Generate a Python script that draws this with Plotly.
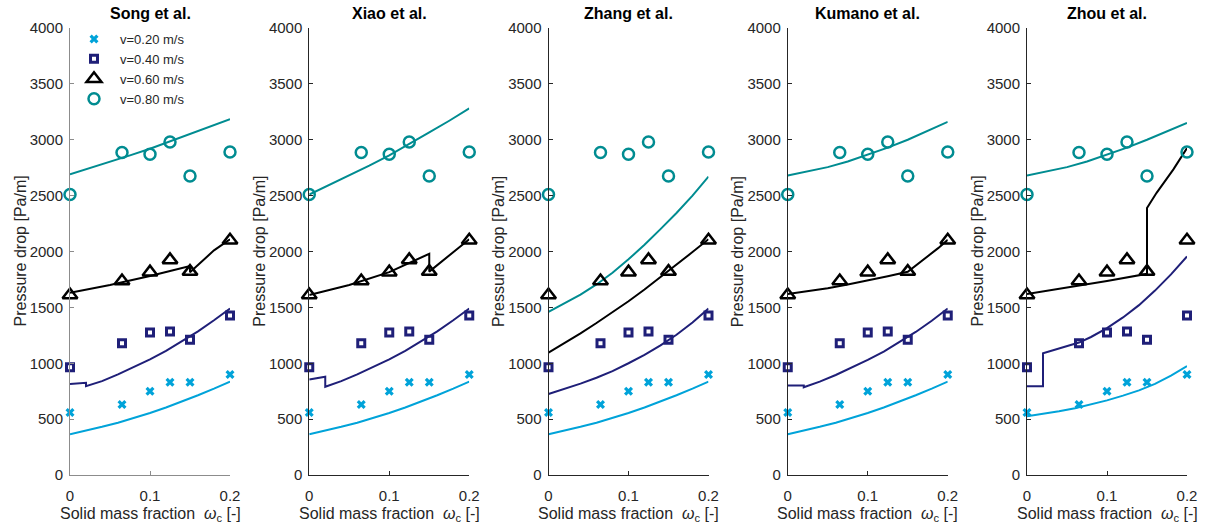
import plotly.graph_objects as go

# ---------------- data ----------------
panel_titles = ["Song et al.", "Xiao et al.", "Zhang et al.", "Kumano et al.", "Zhou et al."]
legend_names = ["v=0.20 m/s", "v=0.40 m/s", "v=0.60 m/s", "v=0.80 m/s"]

# experimental points (same in every panel)
x_exp = [0, 0.065, 0.1, 0.125, 0.15, 0.2]
exp_v020 = [560, 630, 750, 830, 830, 900]
exp_v040 = [965, 1180, 1275, 1285, 1210, 1428]
exp_v060 = [1610, 1735, 1815, 1925, 1820, 2100]
exp_v080 = [2510, 2885, 2870, 2980, 2675, 2890]

# model curves, per panel
grid11 = [0, 0.02, 0.04, 0.06, 0.08, 0.1, 0.12, 0.14, 0.16, 0.18, 0.2]
grid9 = [0, 0.025, 0.05, 0.075, 0.1, 0.125, 0.15, 0.175, 0.2]

# v = 0.20 m/s
song_v020_x = grid11
song_v020_y = [365, 397, 431, 468, 509, 555, 604, 657, 714, 773, 836]
xiao_v020_x = grid11
xiao_v020_y = [365, 397, 431, 468, 509, 555, 604, 657, 714, 773, 836]
zhang_v020_x = grid11
zhang_v020_y = [365, 397, 431, 468, 509, 555, 604, 657, 714, 773, 836]
kumano_v020_x = grid11
kumano_v020_y = [365, 397, 431, 468, 509, 555, 604, 657, 714, 773, 836]
zhou_v020_x = grid11
zhou_v020_y = [525, 547, 571, 598, 630, 668, 710, 757, 815, 890, 975]

# v = 0.40 m/s
step_x = [0, 0.02, 0.02, 0.04, 0.06, 0.08, 0.1, 0.12, 0.14, 0.16, 0.18, 0.2]
song_v040_x = step_x
song_v040_y = [815, 825, 795, 840, 900, 965, 1035, 1110, 1195, 1285, 1385, 1490]
xiao_v040_x = step_x
xiao_v040_y = [855, 880, 790, 840, 900, 965, 1035, 1110, 1195, 1285, 1385, 1490]
zhang_v040_x = grid11
zhang_v040_y = [725, 770, 818, 870, 930, 1000, 1075, 1160, 1255, 1365, 1490]
kumano_v040_x = step_x
kumano_v040_y = [800, 800, 785, 835, 895, 960, 1030, 1105, 1190, 1280, 1380, 1490]
zhou_v040_x = [0, 0.02, 0.02, 0.04, 0.065, 0.08, 0.1, 0.12, 0.14, 0.16, 0.18, 0.2]
zhou_v040_y = [795, 795, 1090, 1130, 1185, 1235, 1315, 1410, 1520, 1650, 1795, 1955]

# v = 0.60 m/s
song_v060_x = [0, 0.05, 0.1, 0.15, 0.15, 0.165, 0.18, 0.2]
song_v060_y = [1630, 1700, 1780, 1870, 1815, 1915, 2010, 2110]
xiao_v060_x = [0, 0.05, 0.1, 0.125, 0.15, 0.15, 0.17, 0.185, 0.2]
xiao_v060_y = [1610, 1700, 1815, 1900, 1980, 1820, 1935, 2025, 2110]
zhang_v060_x = grid11
zhang_v060_y = [1095, 1180, 1268, 1360, 1455, 1555, 1660, 1770, 1880, 1995, 2110]
kumano_v060_x = [0, 0.025, 0.05, 0.075, 0.1, 0.125, 0.15, 0.163, 0.176, 0.188, 0.2]
kumano_v060_y = [1620, 1645, 1672, 1705, 1740, 1778, 1818, 1890, 1960, 2030, 2105]
zhou_v060_x = [0, 0.05, 0.1, 0.15, 0.15, 0.162, 0.183, 0.2]
zhou_v060_y = [1620, 1675, 1735, 1800, 2390, 2525, 2735, 2925]

# v = 0.80 m/s
song_v080_x = grid9
song_v080_y = [2690, 2745, 2800, 2860, 2920, 2985, 3050, 3118, 3185]
xiao_v080_x = grid9
xiao_v080_y = [2510, 2595, 2680, 2768, 2860, 2960, 3065, 3170, 3280]
zhang_v080_x = grid11
zhang_v080_y = [1460, 1535, 1615, 1705, 1810, 1930, 2060, 2200, 2345, 2500, 2670]
kumano_v080_x = grid9
kumano_v080_y = [2680, 2715, 2755, 2805, 2865, 2930, 3000, 3078, 3160]
zhou_v080_x = grid9
zhou_v080_y = [2680, 2715, 2755, 2805, 2865, 2930, 3000, 3075, 3150]

curves = [
    [(song_v020_x, song_v020_y), (song_v040_x, song_v040_y), (song_v060_x, song_v060_y), (song_v080_x, song_v080_y)],
    [(xiao_v020_x, xiao_v020_y), (xiao_v040_x, xiao_v040_y), (xiao_v060_x, xiao_v060_y), (xiao_v080_x, xiao_v080_y)],
    [(zhang_v020_x, zhang_v020_y), (zhang_v040_x, zhang_v040_y), (zhang_v060_x, zhang_v060_y), (zhang_v080_x, zhang_v080_y)],
    [(kumano_v020_x, kumano_v020_y), (kumano_v040_x, kumano_v040_y), (kumano_v060_x, kumano_v060_y), (kumano_v080_x, kumano_v080_y)],
    [(zhou_v020_x, zhou_v020_y), (zhou_v040_x, zhou_v040_y), (zhou_v060_x, zhou_v060_y), (zhou_v080_x, zhou_v080_y)],
]
exp_series = [exp_v020, exp_v040, exp_v060, exp_v080]

# ---------------- styles ----------------
colors = ["#00A3D9", "#1F1F78", "#000000", "#008C91"]
markers = [
    dict(symbol="x", size=8, line=dict(width=0)),
    dict(symbol="square-open", size=7, line=dict(width=3)),
    dict(symbol="triangle-up-open", size=13, line=dict(width=2.5)),
    dict(symbol="circle-open", size=11, line=dict(width=2.5)),
]

W, H = 1206, 528
x0_px, x1_px, step_px = 70, 230, 239.25
ytop_px, ybot_px = 28, 475

fig = go.Figure()
layout = dict(
    width=W, height=H, margin=dict(l=0, r=0, t=0, b=0, autoexpand=False),
    paper_bgcolor="white", plot_bgcolor="white",
    font=dict(family="Liberation Sans, Arial, sans-serif", color="#262626"),
    showlegend=True,
    legend=dict(x=68 / W, y=(H - 24) / H, xanchor="left", yanchor="top",
                bgcolor="rgba(0,0,0,0)", font=dict(size=13, color="#262626"),
                tracegroupgap=0, itemwidth=42),
)
annotations = []

for p in range(5):
    xa = "x" if p == 0 else f"x{p+1}"
    ya = "y" if p == 0 else f"y{p+1}"
    left = x0_px + step_px * p
    right = x1_px + step_px * p
    axcol = "#8c8c8c" if p == 0 else "#262626"
    layout["xaxis" if p == 0 else f"xaxis{p+1}"] = dict(
        domain=[left / W, right / W], range=[0, 0.2], anchor=ya, automargin=False,
        tickvals=[0, 0.1, 0.2], ticktext=["0", "0.1", "0.2"],
        ticks="inside", ticklen=4, tickcolor=axcol, showline=True, linecolor=axcol,
        linewidth=1, showgrid=False, zeroline=False, tickfont=dict(size=15, color="#262626"),
        ticklabelstandoff=7,
    )
    layout["yaxis" if p == 0 else f"yaxis{p+1}"] = dict(
        domain=[(H - ybot_px) / H, (H - ytop_px) / H], range=[0, 4000], anchor=xa,
        automargin=False, tickvals=list(range(0, 4001, 500)),
        ticks="inside", ticklen=4, tickcolor=axcol, showline=True, linecolor=axcol,
        linewidth=1, showgrid=False, zeroline=False, tickfont=dict(size=15, color="#262626"),
        ticklabelstandoff=3,
    )
    # model curves
    for k in range(4):
        cx, cy = curves[p][k]
        fig.add_trace(go.Scatter(x=cx, y=cy, mode="lines", xaxis=xa, yaxis=ya,
                                 line=dict(color=colors[k], width=2), showlegend=False,
                                 hoverinfo="skip"))
    # experimental points
    for k in range(4):
        m = dict(markers[k])
        m["color"] = colors[k]
        m["line"] = dict(m["line"], color=colors[k])
        fig.add_trace(go.Scatter(x=x_exp, y=exp_series[k], mode="markers", xaxis=xa, yaxis=ya,
                                 marker=m, name=legend_names[k], showlegend=(p == 0),
                                 cliponaxis=False))
    cx_paper = ((left + right) / 2) / W
    annotations.append(dict(text="<b>" + panel_titles[p] + "</b>", x=cx_paper, y=(H - 13) / H,
                            xref="paper", yref="paper", showarrow=False,
                            font=dict(size=16, color="#000000"), xanchor="center", yanchor="middle"))
    annotations.append(dict(text="Solid mass fraction  <i>ω</i><sub>c</sub> [-]", x=cx_paper,
                            y=(H - 514) / H, xref="paper", yref="paper", showarrow=False,
                            font=dict(size=16, color="#262626"), xanchor="center", yanchor="middle"))
    annotations.append(dict(text="Pressure drop [Pa/m]", x=(left - 50) / W,
                            y=(H - (ytop_px + ybot_px) / 2) / H, xref="paper", yref="paper",
                            showarrow=False, textangle=-90,
                            font=dict(size=16, color="#262626"), xanchor="center", yanchor="middle"))

layout["annotations"] = annotations
fig.update_layout(**layout)
fig.write_html("out.html")
